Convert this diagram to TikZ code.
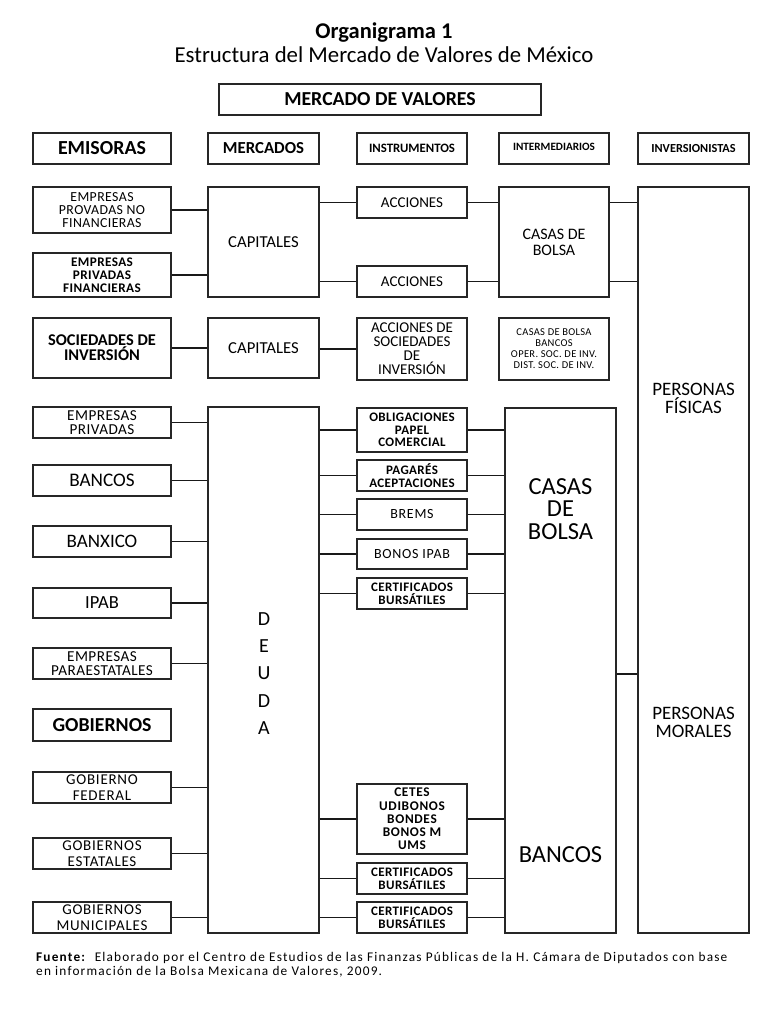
\documentclass[tikz,border=0pt]{standalone}
\usepackage{fontspec}
\setmainfont{Carlito}
\newfontfamily\lsA[LetterSpace=3]{Carlito}
\newfontfamily\lsB[LetterSpace=5]{Carlito}
\newfontfamily\lsF[LetterSpace=9]{Carlito}
\usetikzlibrary{calc}
\tikzset{
  bx/.style={draw=black!85, line width=1.4pt, fill=white, inner sep=0pt, align=center},
  ln/.style={draw=black!90, line width=1.4pt},
}
\newcommand{\mybox}[7][]{\node[bx,minimum width={(#5-#3)*1pt},minimum height={(#6-#4)*1pt},#1] (#2) at ({(#3+#5)/2},{(#4+#6)/2}) {#7};}
\begin{document}
\begin{tikzpicture}[x=1pt,y=-1pt]
\useasboundingbox[fill=white] (0,0) rectangle (768,1024);
% titles
\node[font=\fontsize{22.5}{24}\selectfont\bfseries] (t1) at (384,33) {Organigrama 1};
\node[font=\fontsize{22.8}{24}\selectfont] (t2) at (384,55) {Estructura del Mercado de Valores de México};
\mybox[font=\fontsize{19.8}{20}\selectfont\bfseries]{mv}{219}{84}{541}{115}{MERCADO DE VALORES}
% headers
\mybox[font=\fontsize{19.9}{20}\selectfont\bfseries]{hem}{33}{133}{171}{164}{EMISORAS}
\mybox[font=\fontsize{16.8}{18}\selectfont\bfseries]{hme}{208}{133}{319}{164}{MERCADOS}
\mybox[font=\fontsize{12.8}{14}\selectfont\bfseries]{hin}{357}{133}{467}{164}{INSTRUMENTOS}
\mybox[font=\fontsize{11.2}{14}\selectfont\bfseries,text depth=3pt]{hit}{499}{133}{609}{164}{INTERMEDIARIOS}
\mybox[font=\fontsize{12.3}{14}\selectfont\bfseries]{hiv}{638}{133}{749}{164}{INVERSIONISTAS}
% capitales block 1
\mybox[font=\fontsize{13.8}{13}\lsA\selectfont]{emp1}{33}{187}{171}{233}{EMPRESAS\\PROVADAS NO\\FINANCIERAS}
\mybox[font=\fontsize{13.2}{13}\lsA\selectfont\bfseries]{emp2}{33}{253}{171}{297}{EMPRESAS\\PRIVADAS\\FINANCIERAS}
\mybox[font=\fontsize{16.7}{18}\selectfont]{cap1}{208}{187}{319}{297}{CAPITALES}
\mybox[font=\fontsize{15}{16}\selectfont]{acc1}{357}{187}{467}{218}{ACCIONES}
\mybox[font=\fontsize{15}{16}\selectfont]{acc2}{357}{266}{467}{297}{ACCIONES}
\mybox[font=\fontsize{16}{16}\selectfont]{cb1}{499}{187}{609}{297}{CASAS DE\\BOLSA}
\mybox{pers}{638}{187}{749}{933}{}
\node[font=\fontsize{19}{18}\selectfont,align=center] (pf) at (693.5,398) {PERSONAS\\FÍSICAS};
\node[font=\fontsize{19}{18}\selectfont,align=center] (pm) at (693.5,722) {PERSONAS\\MORALES};
% capitales block 2
\mybox[font=\fontsize{16.4}{15}\selectfont\bfseries]{soc}{33}{318}{171}{378}{SOCIEDADES DE\\INVERSIÓN}
\mybox[font=\fontsize{16.7}{18}\selectfont]{cap2}{208}{318}{319}{378}{CAPITALES}
\mybox[font=\fontsize{15}{14}\selectfont]{accs}{357}{318}{467}{380}{ACCIONES DE\\SOCIEDADES\\DE\\INVERSIÓN}
\mybox[font=\fontsize{10.5}{11}\lsA\selectfont]{cbb}{499}{318}{609}{380}{CASAS DE BOLSA\\BANCOS\\OPER. SOC. DE INV.\\DIST. SOC. DE INV.}
% deuda block
\mybox[font=\fontsize{15.2}{14}\lsA\selectfont]{ep}{33}{407}{171}{438}{EMPRESAS\\PRIVADAS}
\mybox[font=\fontsize{19.2}{20}\selectfont]{ban}{33}{465}{171}{496}{BANCOS}
\mybox[font=\fontsize{19}{20}\selectfont]{bxc}{33}{526}{171}{557}{BANXICO}
\mybox[font=\fontsize{18.5}{20}\selectfont]{ipab}{33}{588}{171}{618}{IPAB}
\mybox[font=\fontsize{15.2}{14}\lsA\selectfont]{epa}{33}{648}{171}{679}{EMPRESAS\\PARAESTATALES}
\mybox[font=\fontsize{19.8}{20}\selectfont\bfseries]{gob}{33}{709}{171}{741}{GOBIERNOS}
\mybox[font=\fontsize{15}{16}\lsB\selectfont]{gf}{33}{772}{171}{803}{GOBIERNO\\FEDERAL}
\mybox[font=\fontsize{15}{16}\lsB\selectfont]{ge}{33}{838}{171}{869}{GOBIERNOS\\ESTATALES}
\mybox[font=\fontsize{15}{16}\lsB\selectfont]{gm}{33}{902}{171}{933}{GOBIERNOS\\MUNICIPALES}
\mybox{deu}{208}{407}{319}{933}{}
\node[font=\fontsize{20}{27.3}\selectfont,align=center] (deut) at (264,673.5) {D\\E\\U\\D\\A};
% instruments
\mybox[font=\fontsize{13}{12.7}\lsA\selectfont\bfseries]{obl}{357}{408}{467}{452}{OBLIGACIONES\\PAPEL\\COMERCIAL}
\mybox[font=\fontsize{13}{13}\lsA\selectfont\bfseries]{pag}{357}{460}{467}{491}{PAGARÉS\\ACEPTACIONES}
\mybox[font=\fontsize{14}{14}\lsB\selectfont]{brm}{357}{499}{467}{530}{BREMS}
\mybox[font=\fontsize{14}{14}\lsB\selectfont]{bip}{357}{539}{467}{569}{BONOS IPAB}
\mybox[font=\fontsize{13}{13}\lsA\selectfont\bfseries]{cer1}{357}{578}{467}{609}{CERTIFICADOS\\BURSÁTILES}
\mybox[font=\fontsize{13.3}{13.3}\lsB\selectfont\bfseries]{cet}{357}{784}{467}{854}{CETES\\UDIBONOS\\BONDES\\BONOS M\\UMS}
\mybox[font=\fontsize{13}{13}\lsA\selectfont\bfseries]{cer2}{357}{863}{467}{894}{CERTIFICADOS\\BURSÁTILES}
\mybox[font=\fontsize{13}{13}\lsA\selectfont\bfseries]{cer3}{357}{902}{467}{933}{CERTIFICADOS\\BURSÁTILES}
\mybox{cbB}{505}{408}{616}{933}{}
\node[font=\fontsize{24.5}{22.5}\selectfont,align=center] (cbt) at (560.5,509) {CASAS\\DE\\BOLSA};
\node[font=\fontsize{24.5}{24}\selectfont] (bct) at (560.5,855) {BANCOS};
\coordinate (cp) at (616,674);
% connectors
\draw[ln] (emp1.east) -- (emp1.east -| cap1.west);
\draw[ln] (emp2.east) -- (emp2.east -| cap1.west);
\draw[ln] (acc1.west -| cap1.east) -- (acc1.west);
\draw[ln] (acc2.west -| cap1.east) -- (acc2.west);
\draw[ln] (acc1.east) -- (acc1.east -| cb1.west);
\draw[ln] (acc2.east) -- (acc2.east -| cb1.west);
\draw[ln] (cb1.east |- acc1) -- (pers.west |- acc1);
\draw[ln] (cb1.east |- acc2) -- (pers.west |- acc2);
\draw[ln] (soc.east) -- (soc.east -| cap2.west);
\draw[ln] (accs.west -| cap2.east) -- (accs.west);
\foreach \n in {ep,ban,bxc,ipab,epa,gf,ge,gm}{\draw[ln] (\n.east) -- (\n.east -| deu.west);}
\foreach \n in {obl,pag,brm,bip,cer1,cet,cer2,cer3}{\draw[ln] (\n.west -| deu.east) -- (\n.west); \draw[ln] (\n.east) -- (\n.east -| cbB.west);}
\draw[ln] (cbB.east |- cp) -- (pers.west |- cp);
% source
\node[anchor=north west,align=left,inner sep=0pt,font=\fontsize{13.3}{14}\lsF\selectfont] (src) at (36,952) {\textbf{Fuente:}\ \ Elaborado por el Centro de Estudios de las Finanzas Públicas de la H. Cámara de Diputados con base\\en información de la Bolsa Mexicana de Valores, 2009.};
\end{tikzpicture}
\end{document}
